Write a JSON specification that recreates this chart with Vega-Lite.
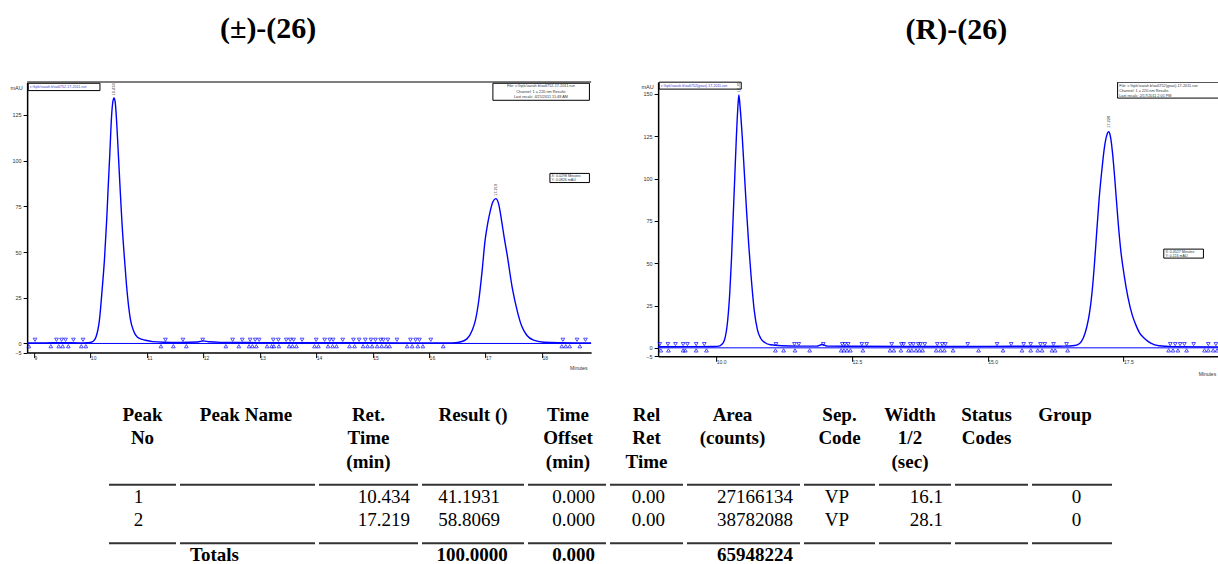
{
"$schema": "https://vega.github.io/schema/vega-lite/v6.json",
"padding": {"left": 9, "top": 14, "right": 0, "bottom": 0},
"background": "white",
"config": {"view": {"stroke": null}, "axis": {"labelFont": "Liberation Sans", "titleFont": "Liberation Sans", "labelOverlap": false, "tickCount": 20}, "text": {"font": "Liberation Sans"}},
"datasets": {
"sigL": [{"t":8.88,"v":0.3},{"t":9.2,"v":0.3},{"t":9.5,"v":0.4},{"t":9.8,"v":0.3},{"t":9.95,"v":0.4},{"t":10.0,"v":0.6},{"t":10.05,"v":1.2},{"t":10.1,"v":3.5},{"t":10.16,"v":12.6},{"t":10.21,"v":30},{"t":10.25,"v":46},{"t":10.29,"v":68},{"t":10.315,"v":85},{"t":10.345,"v":104},{"t":10.375,"v":124},{"t":10.4,"v":132.5},{"t":10.42,"v":134.3},{"t":10.44,"v":132},{"t":10.46,"v":124},{"t":10.5,"v":101},{"t":10.53,"v":83},{"t":10.56,"v":66},{"t":10.6,"v":48},{"t":10.64,"v":32},{"t":10.71,"v":13},{"t":10.77,"v":6.5},{"t":10.83,"v":3.5},{"t":10.92,"v":2.2},{"t":11.0,"v":1.6},{"t":11.1,"v":1.0},{"t":11.3,"v":0.7},{"t":11.6,"v":0.6},{"t":11.9,"v":0.8},{"t":12.0,"v":1.4},{"t":12.1,"v":0.9},{"t":12.3,"v":0.6},{"t":12.8,"v":0.5},{"t":13.5,"v":0.4},{"t":14.5,"v":0.4},{"t":15.5,"v":0.3},{"t":16.4,"v":0.3},{"t":16.55,"v":0.8},{"t":16.67,"v":2.5},{"t":16.76,"v":7},{"t":16.82,"v":12.6},{"t":16.88,"v":23.5},{"t":16.94,"v":40},{"t":16.99,"v":56},{"t":17.04,"v":66},{"t":17.08,"v":72},{"t":17.13,"v":77.5},{"t":17.18,"v":79.2},{"t":17.23,"v":76.5},{"t":17.29,"v":66},{"t":17.33,"v":58},{"t":17.38,"v":49},{"t":17.47,"v":31},{"t":17.56,"v":18},{"t":17.64,"v":9.5},{"t":17.73,"v":4.5},{"t":17.85,"v":1.8},{"t":18.03,"v":0.7},{"t":18.3,"v":0.4},{"t":18.87,"v":0.3}],
"sigR": [{"t":8.93,"v":0.6},{"t":9.5,"v":0.7},{"t":9.95,"v":0.8},{"t":10.05,"v":1.0},{"t":10.1,"v":2},{"t":10.15,"v":4.5},{"t":10.21,"v":16},{"t":10.25,"v":33},{"t":10.28,"v":52},{"t":10.31,"v":76},{"t":10.34,"v":100},{"t":10.37,"v":124},{"t":10.4,"v":143},{"t":10.417,"v":149.3},{"t":10.44,"v":142},{"t":10.48,"v":124},{"t":10.52,"v":102},{"t":10.56,"v":80},{"t":10.6,"v":60},{"t":10.64,"v":43},{"t":10.7,"v":22},{"t":10.76,"v":10.5},{"t":10.82,"v":5.5},{"t":10.9,"v":3},{"t":11.0,"v":1.8},{"t":11.2,"v":1.2},{"t":11.5,"v":1.0},{"t":11.85,"v":1.0},{"t":11.95,"v":2.0},{"t":12.05,"v":1.0},{"t":12.5,"v":0.9},{"t":13.5,"v":0.8},{"t":14.5,"v":0.8},{"t":15.5,"v":0.9},{"t":16.2,"v":0.9},{"t":16.4,"v":1.0},{"t":16.6,"v":1.4},{"t":16.69,"v":2.6},{"t":16.76,"v":6},{"t":16.82,"v":12},{"t":16.87,"v":20},{"t":16.92,"v":33},{"t":16.96,"v":48},{"t":17.0,"v":66},{"t":17.05,"v":88},{"t":17.1,"v":105},{"t":17.15,"v":119},{"t":17.19,"v":125.5},{"t":17.225,"v":127.6},{"t":17.26,"v":124.5},{"t":17.3,"v":114},{"t":17.34,"v":99},{"t":17.4,"v":74},{"t":17.45,"v":57},{"t":17.51,"v":43},{"t":17.58,"v":30},{"t":17.66,"v":19.3},{"t":17.72,"v":14},{"t":17.8,"v":8.5},{"t":17.88,"v":5.7},{"t":18.0,"v":2.8},{"t":18.15,"v":1.2},{"t":18.4,"v":0.7},{"t":19.25,"v":0.5}],
"mkL": [{"t":9.02,"v":2,"d":"dn"},{"t":9.40,"v":2,"d":"dn"},{"t":9.49,"v":2,"d":"dn"},{"t":9.56,"v":2,"d":"dn"},{"t":9.70,"v":2,"d":"dn"},{"t":9.87,"v":2,"d":"dn"},{"t":11.33,"v":2,"d":"dn"},{"t":11.64,"v":2,"d":"dn"},{"t":11.99,"v":2,"d":"dn"},{"t":12.52,"v":2,"d":"dn"},{"t":12.69,"v":2,"d":"dn"},{"t":12.83,"v":2,"d":"dn"},{"t":12.92,"v":2,"d":"dn"},{"t":12.99,"v":2,"d":"dn"},{"t":13.24,"v":2,"d":"dn"},{"t":13.33,"v":2,"d":"dn"},{"t":13.47,"v":2,"d":"dn"},{"t":13.54,"v":2,"d":"dn"},{"t":13.60,"v":2,"d":"dn"},{"t":13.75,"v":2,"d":"dn"},{"t":14.00,"v":2,"d":"dn"},{"t":14.15,"v":2,"d":"dn"},{"t":14.24,"v":2,"d":"dn"},{"t":14.30,"v":2,"d":"dn"},{"t":14.47,"v":2,"d":"dn"},{"t":14.66,"v":2,"d":"dn"},{"t":14.76,"v":2,"d":"dn"},{"t":14.87,"v":2,"d":"dn"},{"t":14.97,"v":2,"d":"dn"},{"t":15.05,"v":2,"d":"dn"},{"t":15.14,"v":2,"d":"dn"},{"t":15.19,"v":2,"d":"dn"},{"t":15.27,"v":2,"d":"dn"},{"t":15.43,"v":2,"d":"dn"},{"t":15.67,"v":2,"d":"dn"},{"t":15.76,"v":2,"d":"dn"},{"t":15.83,"v":2,"d":"dn"},{"t":16.03,"v":2,"d":"dn"},{"t":18.37,"v":2,"d":"dn"},{"t":18.62,"v":2,"d":"dn"},{"t":18.77,"v":2,"d":"dn"},
{"t":8.91,"v":-1.5,"d":"up"},{"t":9.30,"v":-1.5,"d":"up"},{"t":9.44,"v":-1.5,"d":"up"},{"t":9.51,"v":-1.5,"d":"up"},{"t":9.61,"v":-1.5,"d":"up"},{"t":9.84,"v":-1.5,"d":"up"},{"t":9.92,"v":-1.5,"d":"up"},{"t":11.25,"v":-1.5,"d":"up"},{"t":11.47,"v":-1.5,"d":"up"},{"t":11.70,"v":-1.5,"d":"up"},{"t":12.40,"v":-1.5,"d":"up"},{"t":12.63,"v":-1.5,"d":"up"},{"t":12.81,"v":-1.5,"d":"up"},{"t":12.87,"v":-1.5,"d":"up"},{"t":12.94,"v":-1.5,"d":"up"},{"t":13.13,"v":-1.5,"d":"up"},{"t":13.21,"v":-1.5,"d":"up"},{"t":13.25,"v":-1.5,"d":"up"},{"t":13.34,"v":-1.5,"d":"up"},{"t":13.52,"v":-1.5,"d":"up"},{"t":13.58,"v":-1.5,"d":"up"},{"t":13.65,"v":-1.5,"d":"up"},{"t":13.97,"v":-1.5,"d":"up"},{"t":14.04,"v":-1.5,"d":"up"},{"t":14.21,"v":-1.5,"d":"up"},{"t":14.29,"v":-1.5,"d":"up"},{"t":14.36,"v":-1.5,"d":"up"},{"t":14.59,"v":-1.5,"d":"up"},{"t":14.68,"v":-1.5,"d":"up"},{"t":14.83,"v":-1.5,"d":"up"},{"t":14.91,"v":-1.5,"d":"up"},{"t":14.99,"v":-1.5,"d":"up"},{"t":15.08,"v":-1.5,"d":"up"},{"t":15.16,"v":-1.5,"d":"up"},{"t":15.24,"v":-1.5,"d":"up"},{"t":15.30,"v":-1.5,"d":"up"},{"t":15.61,"v":-1.5,"d":"up"},{"t":15.70,"v":-1.5,"d":"up"},{"t":15.80,"v":-1.5,"d":"up"},{"t":15.89,"v":-1.5,"d":"up"},{"t":16.25,"v":-1.5,"d":"up"},{"t":18.35,"v":-1.5,"d":"up"},{"t":18.42,"v":-1.5,"d":"up"},{"t":18.49,"v":-1.5,"d":"up"},{"t":18.67,"v":-1.5,"d":"up"}],
"mkR": [{"t":8.96,"v":2.2,"d":"dn"},{"t":9.11,"v":2.2,"d":"dn"},{"t":9.25,"v":2.2,"d":"dn"},{"t":9.39,"v":2.2,"d":"dn"},{"t":9.47,"v":2.2,"d":"dn"},{"t":9.63,"v":2.2,"d":"dn"},{"t":9.78,"v":2.2,"d":"dn"},{"t":11.10,"v":2.2,"d":"dn"},{"t":11.44,"v":2.2,"d":"dn"},{"t":11.52,"v":2.2,"d":"dn"},{"t":11.97,"v":2.2,"d":"dn"},{"t":12.32,"v":2.2,"d":"dn"},{"t":12.37,"v":2.2,"d":"dn"},{"t":12.43,"v":2.2,"d":"dn"},{"t":12.68,"v":2.2,"d":"dn"},{"t":12.77,"v":2.2,"d":"dn"},{"t":13.23,"v":2.2,"d":"dn"},{"t":13.41,"v":2.2,"d":"dn"},{"t":13.45,"v":2.2,"d":"dn"},{"t":13.57,"v":2.2,"d":"dn"},{"t":13.63,"v":2.2,"d":"dn"},{"t":13.72,"v":2.2,"d":"dn"},{"t":13.76,"v":2.2,"d":"dn"},{"t":13.84,"v":2.2,"d":"dn"},{"t":14.07,"v":2.2,"d":"dn"},{"t":14.16,"v":2.2,"d":"dn"},{"t":14.22,"v":2.2,"d":"dn"},{"t":14.63,"v":2.2,"d":"dn"},{"t":15.17,"v":2.2,"d":"dn"},{"t":15.43,"v":2.2,"d":"dn"},{"t":15.66,"v":2.2,"d":"dn"},{"t":15.79,"v":2.2,"d":"dn"},{"t":15.97,"v":2.2,"d":"dn"},{"t":16.05,"v":2.2,"d":"dn"},{"t":16.21,"v":2.2,"d":"dn"},{"t":16.45,"v":2.2,"d":"dn"},{"t":18.36,"v":2.2,"d":"dn"},{"t":18.45,"v":2.2,"d":"dn"},{"t":18.54,"v":2.2,"d":"dn"},{"t":18.62,"v":2.2,"d":"dn"},{"t":18.79,"v":2.2,"d":"dn"},{"t":19.06,"v":2.2,"d":"dn"},{"t":19.20,"v":2.2,"d":"dn"},
{"t":8.98,"v":-1.5,"d":"up"},{"t":9.12,"v":-1.5,"d":"up"},{"t":9.39,"v":-1.5,"d":"up"},{"t":9.43,"v":-1.5,"d":"up"},{"t":9.63,"v":-1.5,"d":"up"},{"t":9.82,"v":-1.5,"d":"up"},{"t":11.09,"v":-1.5,"d":"up"},{"t":11.24,"v":-1.5,"d":"up"},{"t":11.45,"v":-1.5,"d":"up"},{"t":11.72,"v":-1.5,"d":"up"},{"t":12.30,"v":-1.5,"d":"up"},{"t":12.35,"v":-1.5,"d":"up"},{"t":12.41,"v":-1.5,"d":"up"},{"t":12.47,"v":-1.5,"d":"up"},{"t":12.70,"v":-1.5,"d":"up"},{"t":13.20,"v":-1.5,"d":"up"},{"t":13.27,"v":-1.5,"d":"up"},{"t":13.40,"v":-1.5,"d":"up"},{"t":13.54,"v":-1.5,"d":"up"},{"t":13.60,"v":-1.5,"d":"up"},{"t":13.68,"v":-1.5,"d":"up"},{"t":13.74,"v":-1.5,"d":"up"},{"t":13.80,"v":-1.5,"d":"up"},{"t":14.05,"v":-1.5,"d":"up"},{"t":14.13,"v":-1.5,"d":"up"},{"t":14.20,"v":-1.5,"d":"up"},{"t":14.36,"v":-1.5,"d":"up"},{"t":14.83,"v":-1.5,"d":"up"},{"t":15.28,"v":-1.5,"d":"up"},{"t":15.63,"v":-1.5,"d":"up"},{"t":15.79,"v":-1.5,"d":"up"},{"t":15.92,"v":-1.5,"d":"up"},{"t":16.00,"v":-1.5,"d":"up"},{"t":16.18,"v":-1.5,"d":"up"},{"t":16.24,"v":-1.5,"d":"up"},{"t":16.47,"v":-1.5,"d":"up"},{"t":18.33,"v":-1.5,"d":"up"},{"t":18.41,"v":-1.5,"d":"up"},{"t":18.50,"v":-1.5,"d":"up"},{"t":18.66,"v":-1.5,"d":"up"},{"t":18.99,"v":-1.5,"d":"up"},{"t":19.06,"v":-1.5,"d":"up"},{"t":19.15,"v":-1.5,"d":"up"},{"t":19.22,"v":-1.5,"d":"up"}],
"cells": [
{"col":"PeakNo","kind":"h","row":"h1","text":"Peak"},{"col":"PeakNo","kind":"h","row":"h2","text":"No"},
{"col":"PeakName","kind":"h","row":"h1","text":"Peak Name"},
{"col":"RetTime","kind":"h","row":"h1","text":"Ret."},{"col":"RetTime","kind":"h","row":"h2","text":"Time"},{"col":"RetTime","kind":"h","row":"h3","text":"(min)"},
{"col":"Result","kind":"h","row":"h1","text":"Result ()"},
{"col":"TimeOffset","kind":"h","row":"h1","text":"Time"},{"col":"TimeOffset","kind":"h","row":"h2","text":"Offset"},{"col":"TimeOffset","kind":"h","row":"h3","text":"(min)"},
{"col":"RelRet","kind":"h","row":"h1","text":"Rel"},{"col":"RelRet","kind":"h","row":"h2","text":"Ret"},{"col":"RelRet","kind":"h","row":"h3","text":"Time"},
{"col":"Area","kind":"h","row":"h1","text":"Area"},{"col":"Area","kind":"h","row":"h2","text":"(counts)"},
{"col":"SepCode","kind":"h","row":"h1","text":"Sep."},{"col":"SepCode","kind":"h","row":"h2","text":"Code"},
{"col":"Width","kind":"h","row":"h1","text":"Width"},{"col":"Width","kind":"h","row":"h2","text":"1/2"},{"col":"Width","kind":"h","row":"h3","text":"(sec)"},
{"col":"Status","kind":"h","row":"h1","text":"Status"},{"col":"Status","kind":"h","row":"h2","text":"Codes"},
{"col":"Group","kind":"h","row":"h1","text":"Group"},
{"col":"PeakNo","kind":"v","row":"r1","text":"1"},{"col":"PeakNo","kind":"v","row":"r2","text":"2"},
{"col":"RetTime","kind":"v","row":"r1","text":"10.434"},{"col":"RetTime","kind":"v","row":"r2","text":"17.219"},
{"col":"Result","kind":"v","row":"r1","text":"41.1931"},{"col":"Result","kind":"v","row":"r2","text":"58.8069"},
{"col":"TimeOffset","kind":"v","row":"r1","text":"0.000"},{"col":"TimeOffset","kind":"v","row":"r2","text":"0.000"},
{"col":"RelRet","kind":"v","row":"r1","text":"0.00"},{"col":"RelRet","kind":"v","row":"r2","text":"0.00"},
{"col":"Area","kind":"v","row":"r1","text":"27166134"},{"col":"Area","kind":"v","row":"r2","text":"38782088"},
{"col":"SepCode","kind":"v","row":"r1","text":"VP"},{"col":"SepCode","kind":"v","row":"r2","text":"VP"},
{"col":"Width","kind":"v","row":"r1","text":"16.1"},{"col":"Width","kind":"v","row":"r2","text":"28.1"},
{"col":"Group","kind":"v","row":"r1","text":"0"},{"col":"Group","kind":"v","row":"r2","text":"0"},
{"col":"PeakName","kind":"t","row":"tot","text":"Totals"},{"col":"Result","kind":"t","row":"tot","text":"100.0000"},{"col":"TimeOffset","kind":"t","row":"tot","text":"0.000"},{"col":"Area","kind":"t","row":"tot","text":"65948224"}
],
"seps": [{"row":"s1"},{"row":"s2"}]
},
"vconcat": [
{
"hconcat": [
{
"width": 564, "height": 270.6,
"title": {"text": "(±)-(26)", "font": "Liberation Serif", "fontSize": 30, "fontWeight": "bold", "color": "black", "anchor": "middle", "frame": "group", "dx": -41, "offset": 37},
"layer": [
{"data": {"name": "sigL"}, "mark": {"type": "line", "color": "#0000ff", "strokeWidth": 1.4, "interpolate": "monotone", "clip": true},
 "encoding": {
  "x": {"field": "t", "type": "quantitative", "scale": {"domain": [8.88, 18.87], "nice": false, "zero": false},
        "axis": {"values": [9,10,11,12,13,14,15,16,17,18], "tickCount": 20, "format": "d", "labelFontSize": 5, "labelColor": "#333", "labelAlign": "left", "labelDx": 2, "labelPadding": -2, "tickSize": 5, "tickColor": "black", "domainColor": "black", "domainWidth": 1.5, "grid": false, "labelFlush": false, "labelOverlap": false,
                 "title": "Minutes", "titleFontSize": 5, "titleFontWeight": "normal", "titleColor": "#333", "titleAlign": "right", "titleX": 560, "titleY": 15, "titleBaseline": "middle"}},
  "y": {"field": "v", "type": "quantitative", "scale": {"domain": [-5, 143], "nice": false, "zero": false},
        "axis": {"values": [-5,0,25,50,75,100,125], "tickCount": 20, "format": "d", "labelFontSize": 5.5, "labelColor": "#333", "tickSize": 4, "tickColor": "black", "domainColor": "black", "domainWidth": 1.5, "grid": false, "labelPadding": 2, "labelOverlap": false, "labelFlush": false,
                 "title": "mAU", "titleAngle": 0, "titleFontSize": 5.5, "titleFontWeight": "normal", "titleColor": "#333", "titleAlign": "right", "titleBaseline": "middle", "titleX": -5, "titleY": 5}}}},
{"data": {"values": [{}]}, "mark": {"type": "rule", "color": "#0000ff", "strokeWidth": 1}, "encoding": {"y": {"datum": 0}}},
{"data": {"values": [{}]}, "mark": {"type": "rule", "color": "#7f7f7f", "strokeWidth": 2}, "encoding": {"y": {"datum": 143}}},
{"data": {"name": "mkL"}, "mark": {"type": "point", "filled": false, "color": "#0000ff", "size": 14, "strokeWidth": 1},
 "encoding": {"x": {"field": "t", "type": "quantitative"}, "y": {"field": "v", "type": "quantitative"},
  "shape": {"field": "d", "type": "nominal", "scale": {"domain": ["dn", "up"], "range": ["triangle-down", "triangle-up"]}, "legend": null}}},
{"data": {"values": [{}]}, "mark": {"type": "rect", "fill": "white", "stroke": "black", "strokeWidth": 1}, "encoding": {"x": {"datum": 8.9}, "x2": {"datum": 10.17}, "y": {"datum": 142.3}, "y2": {"datum": 138.3}}},
{"data": {"values": [{}]}, "mark": {"type": "text", "fontSize": 3.6, "align": "left", "baseline": "middle", "color": "#3a3acc"}, "encoding": {"x": {"datum": 8.93}, "y": {"datum": 140.3}, "text": {"value": "c:\\hplc\\sarah b\\sa6752-17-2011.run"}}},
{"data": {"values": [{}]}, "mark": {"type": "rect", "fill": "white", "stroke": "black", "strokeWidth": 1}, "encoding": {"x": {"datum": 17.13}, "x2": {"datum": 18.84}, "y": {"datum": 142.3}, "y2": {"datum": 133}}},
{"data": {"values": [{}]}, "mark": {"type": "text", "fontSize": 3.8, "align": "center", "baseline": "middle", "color": "#333", "lineHeight": 5.3}, "encoding": {"x": {"datum": 17.98}, "y": {"datum": 140.6}, "text": {"value": ["File: c:\\hplc\\sarah b\\sa6752-17-2011.run", "Channel: 1 = 220 nm Results", "Last recalc: 4/21/2011 11:48 AM"]}}},
{"data": {"values": [{}]}, "mark": {"type": "rect", "fill": "white", "stroke": "black", "strokeWidth": 1}, "encoding": {"x": {"datum": 18.14}, "x2": {"datum": 18.84}, "y": {"datum": 93}, "y2": {"datum": 88}}},
{"data": {"values": [{}]}, "mark": {"type": "text", "fontSize": 3.6, "align": "left", "baseline": "middle", "color": "#333", "lineHeight": 4}, "encoding": {"x": {"datum": 18.17}, "y": {"datum": 91.6}, "text": {"value": ["X: 0.0298 Minutes", "Y: 0.0826 mAU"]}}},
{"data": {"values": [{}]}, "mark": {"type": "text", "fontSize": 4, "align": "left", "baseline": "middle", "angle": 270, "color": "#333"}, "encoding": {"x": {"datum": 10.42}, "y": {"datum": 135.6}, "text": {"value": "10.434"}}},
{"data": {"values": [{}]}, "mark": {"type": "text", "fontSize": 4, "align": "left", "baseline": "middle", "angle": 270, "color": "#333"}, "encoding": {"x": {"datum": 17.18}, "y": {"datum": 80.6}, "text": {"value": "17.219"}}}
]
},
{
"width": 560.5, "height": 274.3,
"title": {"text": "(R)-(26)", "font": "Liberation Serif", "fontSize": 30, "fontWeight": "bold", "color": "black", "anchor": "middle", "frame": "group", "dx": 18, "offset": 37},
"layer": [
{"data": {"name": "sigR"}, "mark": {"type": "line", "color": "#0000ff", "strokeWidth": 1.4, "interpolate": "monotone", "clip": true},
 "encoding": {
  "x": {"field": "t", "type": "quantitative", "scale": {"domain": [8.93, 19.25], "nice": false, "zero": false},
        "axis": {"values": [10,12.5,15,17.5], "tickCount": 20, "format": ".1f", "labelFontSize": 5, "labelColor": "#333", "labelAlign": "left", "labelDx": 2, "labelPadding": -2, "tickSize": 5, "tickColor": "black", "domainColor": "black", "domainWidth": 1.5, "grid": false, "labelFlush": false, "labelOverlap": false,
                 "title": "Minutes", "titleFontSize": 5, "titleFontWeight": "normal", "titleColor": "#333", "titleAlign": "left", "titleX": 540, "titleY": 17, "titleBaseline": "middle"}},
  "y": {"field": "v", "type": "quantitative", "scale": {"domain": [-5, 157], "nice": false, "zero": false},
        "axis": {"values": [-5,0,25,50,75,100,125,150], "tickCount": 20, "format": "d", "labelFontSize": 5.5, "labelColor": "#333", "tickSize": 4, "tickColor": "black", "domainColor": "black", "domainWidth": 1.5, "grid": false, "labelPadding": 2, "labelOverlap": false, "labelFlush": false,
                 "title": "mAU", "titleAngle": 0, "titleFontSize": 5.5, "titleFontWeight": "normal", "titleColor": "#333", "titleAlign": "right", "titleBaseline": "middle", "titleX": -5, "titleY": 4}}}},
{"data": {"values": [{}]}, "mark": {"type": "rule", "color": "#0000ff", "strokeWidth": 1}, "encoding": {"y": {"datum": 0}}},
{"data": {"name": "mkR"}, "mark": {"type": "point", "filled": false, "color": "#0000ff", "size": 14, "strokeWidth": 1},
 "encoding": {"x": {"field": "t", "type": "quantitative"}, "y": {"field": "v", "type": "quantitative"},
  "shape": {"field": "d", "type": "nominal", "scale": {"domain": ["dn", "up"], "range": ["triangle-down", "triangle-up"]}, "legend": null}}},
{"data": {"values": [{}]}, "mark": {"type": "rect", "fill": "white", "stroke": "black", "strokeWidth": 1}, "encoding": {"x": {"datum": 8.95}, "x2": {"datum": 10.46}, "y": {"datum": 156.9}, "y2": {"datum": 152.8}}},
{"data": {"values": [{}]}, "mark": {"type": "text", "fontSize": 3.6, "align": "left", "baseline": "middle", "color": "#3a3acc"}, "encoding": {"x": {"datum": 8.98}, "y": {"datum": 154.8}, "text": {"value": "c:\\hplc\\sarah b\\sa6752(gsas)-17-2011.run"}}},
{"data": {"values": [{}]}, "mark": {"type": "rect", "fill": "white", "stroke": "black", "strokeWidth": 1, "clip": true}, "encoding": {"x": {"datum": 17.39}, "x2": {"datum": 19.4}, "y": {"datum": 156.9}, "y2": {"datum": 147.5}}},
{"data": {"values": [{}]}, "mark": {"type": "text", "fontSize": 3.8, "align": "left", "baseline": "middle", "color": "#333", "lineHeight": 5, "clip": true}, "encoding": {"x": {"datum": 17.42}, "y": {"datum": 154.8}, "text": {"value": ["            File: c:\\hplc\\sarah b\\sa6752(gsas)-17-2011.run", "    Channel: 1 = 220 nm Results", "Last recalc: 2/17/2011 2:01 PM"]}}},
{"data": {"values": [{}]}, "mark": {"type": "rect", "fill": "white", "stroke": "black", "strokeWidth": 1}, "encoding": {"x": {"datum": 18.24}, "x2": {"datum": 18.97}, "y": {"datum": 58.3}, "y2": {"datum": 53}}},
{"data": {"values": [{}]}, "mark": {"type": "text", "fontSize": 3.6, "align": "left", "baseline": "middle", "color": "#333", "lineHeight": 4}, "encoding": {"x": {"datum": 18.27}, "y": {"datum": 56.7}, "text": {"value": ["X: 0.4527 Minutes", "Y: 0.224 mAU"]}}},
{"data": {"values": [{}]}, "mark": {"type": "text", "fontSize": 4, "align": "left", "baseline": "middle", "angle": 270, "color": "#333", "clip": true}, "encoding": {"x": {"datum": 10.417}, "y": {"datum": 151}, "text": {"value": "10.417"}}},
{"data": {"values": [{}]}, "mark": {"type": "text", "fontSize": 4, "align": "left", "baseline": "middle", "angle": 270, "color": "#333"}, "encoding": {"x": {"datum": 17.225}, "y": {"datum": 129.8}, "text": {"value": "17.228"}}}
]
}
],
"spacing": 48
},
{
"hconcat": [
{"width": 67, "height": 151.7, "data": {"name": "cells"}, "layer": [
 {"transform": [{"filter": "datum.col==='PeakNo' && datum.kind==='h'"}], "mark": {"type": "text", "font": "Liberation Serif", "fontWeight": "bold", "fontSize": 19, "baseline": "middle", "color": "black"}, "encoding": {"y": {"field": "row", "type": "nominal", "scale": {"domain": ["h1","_1","h2","_3","h3","_5","s1","r1","_8","r2","_10","s2","tot"]}, "axis": null}, "text": {"field": "text"}}},
 {"transform": [{"filter": "datum.col==='PeakNo' && datum.kind==='v'"}], "mark": {"type": "text", "font": "Liberation Serif", "fontSize": 19, "baseline": "middle", "color": "black", "dx": -4}, "encoding": {"y": {"field": "row", "type": "nominal"}, "text": {"field": "text"}}},
 {"data": {"name": "seps"}, "mark": {"type": "rule", "color": "#333", "strokeWidth": 2}, "encoding": {"y": {"field": "row", "type": "nominal"}}}
]},
{"width": 135, "height": 151.7, "data": {"name": "cells"}, "layer": [
 {"transform": [{"filter": "datum.col==='PeakName' && datum.kind==='h'"}], "mark": {"type": "text", "font": "Liberation Serif", "fontWeight": "bold", "fontSize": 19, "baseline": "middle", "color": "black", "dx": -1.5}, "encoding": {"y": {"field": "row", "type": "nominal", "scale": {"domain": ["h1","_1","h2","_3","h3","_5","s1","r1","_8","r2","_10","s2","tot"]}, "axis": null}, "text": {"field": "text"}}},
 {"transform": [{"filter": "datum.col==='PeakName' && datum.kind==='t'"}], "mark": {"type": "text", "font": "Liberation Serif", "fontWeight": "bold", "fontSize": 19, "baseline": "middle", "color": "black", "dx": -33}, "encoding": {"y": {"field": "row", "type": "nominal"}, "text": {"field": "text"}}},
 {"data": {"name": "seps"}, "mark": {"type": "rule", "color": "#333", "strokeWidth": 2}, "encoding": {"y": {"field": "row", "type": "nominal"}}}
]},
{"width": 99, "height": 151.7, "data": {"name": "cells"}, "layer": [
 {"transform": [{"filter": "datum.col==='RetTime' && datum.kind==='h'"}], "mark": {"type": "text", "font": "Liberation Serif", "fontWeight": "bold", "fontSize": 19, "baseline": "middle", "color": "black"}, "encoding": {"y": {"field": "row", "type": "nominal", "scale": {"domain": ["h1","_1","h2","_3","h3","_5","s1","r1","_8","r2","_10","s2","tot"]}, "axis": null}, "text": {"field": "text"}}},
 {"transform": [{"filter": "datum.col==='RetTime' && datum.kind==='v'"}], "mark": {"type": "text", "font": "Liberation Serif", "fontSize": 19, "baseline": "middle", "color": "black", "align": "right", "dx": 41.5}, "encoding": {"y": {"field": "row", "type": "nominal"}, "text": {"field": "text"}}},
 {"data": {"name": "seps"}, "mark": {"type": "rule", "color": "#333", "strokeWidth": 2}, "encoding": {"y": {"field": "row", "type": "nominal"}}}
]},
{"width": 102, "height": 151.7, "data": {"name": "cells"}, "layer": [
 {"transform": [{"filter": "datum.col==='Result' && datum.kind==='h'"}], "mark": {"type": "text", "font": "Liberation Serif", "fontWeight": "bold", "fontSize": 19, "baseline": "middle", "color": "black"}, "encoding": {"y": {"field": "row", "type": "nominal", "scale": {"domain": ["h1","_1","h2","_3","h3","_5","s1","r1","_8","r2","_10","s2","tot"]}, "axis": null}, "text": {"field": "text"}}},
 {"transform": [{"filter": "datum.col==='Result' && datum.kind==='v'"}], "mark": {"type": "text", "font": "Liberation Serif", "fontSize": 19, "baseline": "middle", "color": "black", "dx": -4}, "encoding": {"y": {"field": "row", "type": "nominal"}, "text": {"field": "text"}}},
 {"transform": [{"filter": "datum.col==='Result' && datum.kind==='t'"}], "mark": {"type": "text", "font": "Liberation Serif", "fontWeight": "bold", "fontSize": 19, "baseline": "middle", "color": "black", "dx": -1}, "encoding": {"y": {"field": "row", "type": "nominal"}, "text": {"field": "text"}}},
 {"data": {"name": "seps"}, "mark": {"type": "rule", "color": "#333", "strokeWidth": 2}, "encoding": {"y": {"field": "row", "type": "nominal"}}}
]},
{"width": 78, "height": 151.7, "data": {"name": "cells"}, "layer": [
 {"transform": [{"filter": "datum.col==='TimeOffset' && datum.kind==='h'"}], "mark": {"type": "text", "font": "Liberation Serif", "fontWeight": "bold", "fontSize": 19, "baseline": "middle", "color": "black", "dx": 1}, "encoding": {"y": {"field": "row", "type": "nominal", "scale": {"domain": ["h1","_1","h2","_3","h3","_5","s1","r1","_8","r2","_10","s2","tot"]}, "axis": null}, "text": {"field": "text"}}},
 {"transform": [{"filter": "datum.col==='TimeOffset' && datum.kind==='v'"}], "mark": {"type": "text", "font": "Liberation Serif", "fontSize": 19, "baseline": "middle", "color": "black", "align": "right", "dx": 28}, "encoding": {"y": {"field": "row", "type": "nominal"}, "text": {"field": "text"}}},
 {"transform": [{"filter": "datum.col==='TimeOffset' && datum.kind==='t'"}], "mark": {"type": "text", "font": "Liberation Serif", "fontWeight": "bold", "fontSize": 19, "baseline": "middle", "color": "black", "align": "right", "dx": 28}, "encoding": {"y": {"field": "row", "type": "nominal"}, "text": {"field": "text"}}},
 {"data": {"name": "seps"}, "mark": {"type": "rule", "color": "#333", "strokeWidth": 2}, "encoding": {"y": {"field": "row", "type": "nominal"}}}
]},
{"width": 73, "height": 151.7, "data": {"name": "cells"}, "layer": [
 {"transform": [{"filter": "datum.col==='RelRet' && datum.kind==='h'"}], "mark": {"type": "text", "font": "Liberation Serif", "fontWeight": "bold", "fontSize": 19, "baseline": "middle", "color": "black"}, "encoding": {"y": {"field": "row", "type": "nominal", "scale": {"domain": ["h1","_1","h2","_3","h3","_5","s1","r1","_8","r2","_10","s2","tot"]}, "axis": null}, "text": {"field": "text"}}},
 {"transform": [{"filter": "datum.col==='RelRet' && datum.kind==='v'"}], "mark": {"type": "text", "font": "Liberation Serif", "fontSize": 19, "baseline": "middle", "color": "black", "align": "right", "dx": 18.5}, "encoding": {"y": {"field": "row", "type": "nominal"}, "text": {"field": "text"}}},
 {"data": {"name": "seps"}, "mark": {"type": "rule", "color": "#333", "strokeWidth": 2}, "encoding": {"y": {"field": "row", "type": "nominal"}}}
]},
{"width": 113, "height": 151.7, "data": {"name": "cells"}, "layer": [
 {"transform": [{"filter": "datum.col==='Area' && datum.kind==='h'"}], "mark": {"type": "text", "font": "Liberation Serif", "fontWeight": "bold", "fontSize": 19, "baseline": "middle", "color": "black", "dx": -11}, "encoding": {"y": {"field": "row", "type": "nominal", "scale": {"domain": ["h1","_1","h2","_3","h3","_5","s1","r1","_8","r2","_10","s2","tot"]}, "axis": null}, "text": {"field": "text"}}},
 {"transform": [{"filter": "datum.col==='Area' && datum.kind==='v'"}], "mark": {"type": "text", "font": "Liberation Serif", "fontSize": 19, "baseline": "middle", "color": "black", "align": "right", "dx": 49.5}, "encoding": {"y": {"field": "row", "type": "nominal"}, "text": {"field": "text"}}},
 {"transform": [{"filter": "datum.col==='Area' && datum.kind==='t'"}], "mark": {"type": "text", "font": "Liberation Serif", "fontWeight": "bold", "fontSize": 19, "baseline": "middle", "color": "black", "align": "right", "dx": 49.5}, "encoding": {"y": {"field": "row", "type": "nominal"}, "text": {"field": "text"}}},
 {"data": {"name": "seps"}, "mark": {"type": "rule", "color": "#333", "strokeWidth": 2}, "encoding": {"y": {"field": "row", "type": "nominal"}}}
]},
{"width": 71, "height": 151.7, "data": {"name": "cells"}, "layer": [
 {"transform": [{"filter": "datum.col==='SepCode' && datum.kind==='h'"}], "mark": {"type": "text", "font": "Liberation Serif", "fontWeight": "bold", "fontSize": 19, "baseline": "middle", "color": "black"}, "encoding": {"y": {"field": "row", "type": "nominal", "scale": {"domain": ["h1","_1","h2","_3","h3","_5","s1","r1","_8","r2","_10","s2","tot"]}, "axis": null}, "text": {"field": "text"}}},
 {"transform": [{"filter": "datum.col==='SepCode' && datum.kind==='v'"}], "mark": {"type": "text", "font": "Liberation Serif", "fontSize": 19, "baseline": "middle", "color": "black", "dx": -2.5}, "encoding": {"y": {"field": "row", "type": "nominal"}, "text": {"field": "text"}}},
 {"data": {"name": "seps"}, "mark": {"type": "rule", "color": "#333", "strokeWidth": 2}, "encoding": {"y": {"field": "row", "type": "nominal"}}}
]},
{"width": 72, "height": 151.7, "data": {"name": "cells"}, "layer": [
 {"transform": [{"filter": "datum.col==='Width' && datum.kind==='h'"}], "mark": {"type": "text", "font": "Liberation Serif", "fontWeight": "bold", "fontSize": 19, "baseline": "middle", "color": "black", "dx": -5}, "encoding": {"y": {"field": "row", "type": "nominal", "scale": {"domain": ["h1","_1","h2","_3","h3","_5","s1","r1","_8","r2","_10","s2","tot"]}, "axis": null}, "text": {"field": "text"}}},
 {"transform": [{"filter": "datum.col==='Width' && datum.kind==='v'"}], "mark": {"type": "text", "font": "Liberation Serif", "fontSize": 19, "baseline": "middle", "color": "black", "align": "right", "dx": 28}, "encoding": {"y": {"field": "row", "type": "nominal"}, "text": {"field": "text"}}},
 {"data": {"name": "seps"}, "mark": {"type": "rule", "color": "#333", "strokeWidth": 2}, "encoding": {"y": {"field": "row", "type": "nominal"}}}
]},
{"width": 73, "height": 151.7, "data": {"name": "cells"}, "layer": [
 {"transform": [{"filter": "datum.col==='Status' && datum.kind==='h'"}], "mark": {"type": "text", "font": "Liberation Serif", "fontWeight": "bold", "fontSize": 19, "baseline": "middle", "color": "black", "dx": -5}, "encoding": {"y": {"field": "row", "type": "nominal", "scale": {"domain": ["h1","_1","h2","_3","h3","_5","s1","r1","_8","r2","_10","s2","tot"]}, "axis": null}, "text": {"field": "text"}}},
 {"data": {"name": "seps"}, "mark": {"type": "rule", "color": "#333", "strokeWidth": 2}, "encoding": {"y": {"field": "row", "type": "nominal"}}}
]},
{"width": 80, "height": 151.7, "data": {"name": "cells"}, "layer": [
 {"transform": [{"filter": "datum.col==='Group' && datum.kind==='h'"}], "mark": {"type": "text", "font": "Liberation Serif", "fontWeight": "bold", "fontSize": 19, "baseline": "middle", "color": "black", "dx": -7}, "encoding": {"y": {"field": "row", "type": "nominal", "scale": {"domain": ["h1","_1","h2","_3","h3","_5","s1","r1","_8","r2","_10","s2","tot"]}, "axis": null}, "text": {"field": "text"}}},
 {"transform": [{"filter": "datum.col==='Group' && datum.kind==='v'"}], "mark": {"type": "text", "font": "Liberation Serif", "fontSize": 19, "baseline": "middle", "color": "black", "dx": 4.5}, "encoding": {"y": {"field": "row", "type": "nominal"}, "text": {"field": "text"}}},
 {"data": {"name": "seps"}, "mark": {"type": "rule", "color": "#333", "strokeWidth": 2}, "encoding": {"y": {"field": "row", "type": "nominal"}}}
]},
{"width": 24, "height": 151.7, "data": {"values": [{}]}, "mark": {"type": "text", "opacity": 0}, "encoding": {"text": {"value": "."}}}
],
"spacing": 2
}
],
"spacing": 28,
"center": true
}
